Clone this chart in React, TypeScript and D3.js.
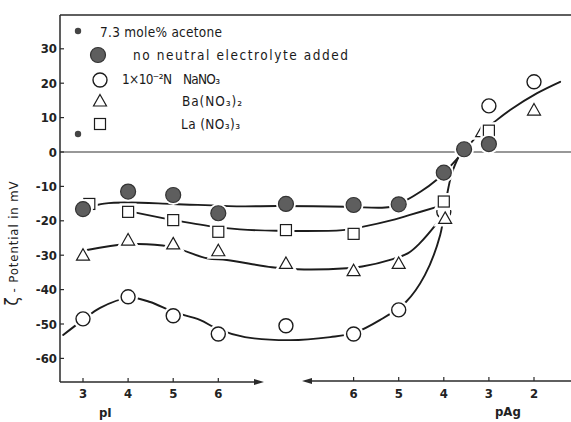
import React, { useRef, useEffect } from 'react';
import * as d3 from 'd3';

// Abscissa is one combined scale in "steps":
// pI 3..6 -> 0..3, the middle point -> 4.5, pAg 6..2 -> 6..10
const pITicks = [3, 4, 5, 6];
const pAgTicks = [6, 5, 4, 3, 2];
const yTicks = [30, 20, 10, 0, -10, -20, -30, -40, -50, -60];

const pIPos = (p: number) => p - 3;
const pAgPos = (p: number) => 12 - p;

// measured points (x in steps, y in mV)
const noElectrolyteX = [0, 1, 2, 3, 4.5, 6, 7, 8, 8.45, 9];
const noElectrolyteY = [-16.6, -11.5, -12.5, -17.8, -15.1, -15.4, -15.2, -6, 0.8, 2.3];

const naNO3X = [0, 1, 2, 3, 4.5, 6, 7, 8, 9, 10];
const naNO3Y = [-48.5, -42.1, -47.6, -52.9, -50.5, -52.9, -45.9, -17.4, 13.4, 20.4];

const baNO3X = [0, 1, 2, 3, 4.5, 6, 7, 8.03, 8.85, 10];
const baNO3Y = [-30, -25.6, -26.7, -28.7, -32.4, -34.5, -32.4, -19.3, 5.9, 12.2];

const laNO3X = [0.14, 1, 2, 3, 4.5, 6, 8, 9];
const laNO3Y = [-15.1, -17.4, -19.8, -23.2, -22.7, -23.8, -14.4, 6.2];

// hand drawn fitted curves (x in steps, y in mV)
const noElectrolyteCurve: [number, number][] = [
  [0.31, -15.4], [0.47, -15.0], [0.98, -14.7], [2.0, -15.1], [3.48, -15.8], [4.3, -15.7],
  [5.85, -15.9], [6.81, -16], [7.14, -14.2], [7.49, -11.5], [7.83, -8.2], [8.14, -4.2],
  [8.43, 0], [8.76, 4.9], [9.09, 8.4], [9.47, 12.2], [10.07, 17.1], [10.58, 20.4],
];
const laNO3Curve: [number, number][] = [
  [1.09, -17.4], [1.93, -19.6], [2.88, -21.7], [3.48, -22.5], [4.3, -22.9], [5.76, -22.7],
  [6.14, -21.9], [6.92, -19.6], [7.25, -18.3], [7.87, -15.9],
];
const baNO3Curve: [number, number][] = [
  [0.09, -28.5], [0.98, -26.8], [1.93, -27.5], [2.75, -30.9], [3.19, -31.4], [4.19, -33.5],
  [4.75, -34.1], [5.85, -33.8], [6.19, -33.3], [6.85, -31.2], [7.21, -29.4], [7.47, -26.5],
  [7.85, -20.7], [8.0, -18],
];
const naNO3Curve: [number, number][] = [
  [-0.44, -53.2], [0, -48.8], [0.38, -45.3], [1.02, -42.4], [1.49, -43.6], [2.0, -46.5],
  [2.59, -48.8], [2.99, -51.5], [3.59, -53.8], [4.59, -54.7], [5.48, -53.8], [6.01, -52.6],
  [6.59, -48.8], [7.16, -43.6], [7.58, -35.8], [7.92, -24.1], [8.05, -14], [8.18, -6.1],
  [8.36, -0.5],
];

type Shape = 'filled' | 'open' | 'tri' | 'sq' | 'dot';

const App: React.FC = () => {
  const svgRef = useRef<SVGSVGElement | null>(null);

  useEffect(() => {
    if (!svgRef.current) return;
    const svg = d3.select(svgRef.current);
    svg.selectAll('*').remove();

    const font = "'DejaVu Sans Condensed', 'DejaVu Sans', sans-serif";
    const ink = '#1c1c1c';
    const axisInk = '#2a2a2a';

    const x = d3.scaleLinear().domain([0, 10]).range([83, 534]);
    const y = d3.scaleLinear().domain([-60, 30]).range([358.4, 48.8]);

    const left = 60, top = 15, bottom = 382, right = 571;

    svg.append('rect').attr('width', 571).attr('height', 422).attr('fill', '#ffffff');

    // frame top + left axis
    svg.append('line').attr('x1', left).attr('x2', right).attr('y1', top).attr('y2', top)
      .attr('stroke', axisInk).attr('stroke-width', 1.4);
    svg.append('line').attr('x1', left).attr('x2', left).attr('y1', top).attr('y2', bottom)
      .attr('stroke', axisInk).attr('stroke-width', 1.5);

    // zero line
    svg.append('line').attr('x1', left).attr('x2', right).attr('y1', y(0)).attr('y2', y(0))
      .attr('stroke', '#333').attr('stroke-width', 1.2);

    // pI axis with arrow to the right
    svg.append('line').attr('x1', left).attr('x2', 256).attr('y1', bottom).attr('y2', bottom)
      .attr('stroke', axisInk).attr('stroke-width', 1.5);
    svg.append('path').attr('d', `M264,${bottom} L254,${bottom - 3} L254,${bottom + 3} Z`).attr('fill', axisInk);

    // pAg axis with arrow to the left
    svg.append('line').attr('x1', 309).attr('x2', right).attr('y1', bottom - 1).attr('y2', bottom - 1)
      .attr('stroke', axisInk).attr('stroke-width', 1.5);
    svg.append('path').attr('d', `M302,${bottom - 1} L312,${bottom - 4} L312,${bottom + 2} Z`).attr('fill', axisInk);

    // y ticks
    yTicks.forEach(t => {
      svg.append('line').attr('x1', left).attr('x2', left + 4).attr('y1', y(t)).attr('y2', y(t))
        .attr('stroke', axisInk).attr('stroke-width', 1.2);
      svg.append('text').attr('x', 57).attr('y', y(t)).attr('dy', '0.36em')
        .attr('text-anchor', 'end').attr('font-family', font).attr('font-size', 13)
        .attr('font-weight', 'bold').attr('fill', '#222').text(String(t));
    });

    // x ticks
    pITicks.forEach(t => {
      const px = x(pIPos(t));
      svg.append('line').attr('x1', px).attr('x2', px).attr('y1', bottom).attr('y2', bottom - 4)
        .attr('stroke', axisInk).attr('stroke-width', 1.2);
      svg.append('text').attr('x', px).attr('y', 398).attr('text-anchor', 'middle')
        .attr('font-family', font).attr('font-size', 13).attr('font-weight', 'bold')
        .attr('fill', '#222').text(String(t));
    });
    pAgTicks.forEach(t => {
      const px = x(pAgPos(t));
      svg.append('line').attr('x1', px).attr('x2', px).attr('y1', bottom - 1).attr('y2', bottom - 5)
        .attr('stroke', axisInk).attr('stroke-width', 1.2);
      svg.append('text').attr('x', px).attr('y', 398).attr('text-anchor', 'middle')
        .attr('font-family', font).attr('font-size', 13).attr('font-weight', 'bold')
        .attr('fill', '#222').text(String(t));
    });

    // axis titles
    svg.append('text').attr('x', 99).attr('y', 417).attr('font-family', font)
      .attr('font-size', 13).attr('font-weight', 'bold').attr('fill', '#222').text('pI');
    svg.append('text').attr('x', 495).attr('y', 416).attr('font-family', font)
      .attr('font-size', 13).attr('font-weight', 'bold').attr('fill', '#222').text('pAg');
    const yTitle = svg.append('text')
      .attr('transform', 'translate(18,243) rotate(-90)')
      .attr('text-anchor', 'middle').attr('font-family', font).attr('font-size', 13)
      .attr('fill', '#222');
    yTitle.append('tspan').attr('font-size', 17).text('ζ');
    yTitle.append('tspan').text(' - Potential in mV').attr('letter-spacing', 0.9);

    // curves
    const line = d3.line<[number, number]>()
      .x(d => x(d[0]))
      .y(d => y(d[1]))
      .curve(d3.curveCatmullRom.alpha(0.5));
    [noElectrolyteCurve, laNO3Curve, baNO3Curve, naNO3Curve].forEach(c => {
      svg.append('path').attr('d', line(c) ?? '').attr('fill', 'none')
        .attr('stroke', ink).attr('stroke-width', 1.9).attr('stroke-linecap', 'round');
    });

    // markers
    const drawMarker = (shape: Shape, cx: number, cy: number, halo: boolean) => {
      const g = svg.append('g').attr('transform', `translate(${cx},${cy})`);
      const layers = halo ? [true, false] : [false];
      layers.forEach(isHalo => {
        const stroke = isHalo ? '#ffffff' : ink;
        const sw = isHalo ? 6 : 1.4;
        if (shape === 'filled') {
          g.append('circle').attr('r', 7.5).attr('fill', isHalo ? '#fff' : '#5e5e5e')
            .attr('stroke', isHalo ? '#fff' : '#333').attr('stroke-width', isHalo ? 5 : 1.2);
        } else if (shape === 'open') {
          g.append('circle').attr('r', 7).attr('fill', '#fff')
            .attr('stroke', stroke).attr('stroke-width', sw);
        } else if (shape === 'tri') {
          g.append('path').attr('d', 'M0,-6.5 L6.5,5 L-6.5,5 Z').attr('fill', '#fff')
            .attr('stroke', stroke).attr('stroke-width', isHalo ? 6 : 1.2).attr('stroke-linejoin', 'miter');
        } else if (shape === 'sq') {
          g.append('rect').attr('x', -5.5).attr('y', -5.5).attr('width', 11).attr('height', 11)
            .attr('fill', '#fff').attr('stroke', stroke).attr('stroke-width', isHalo ? 6 : 1.2);
        } else {
          g.append('circle').attr('r', 3.2).attr('fill', '#444');
        }
      });
    };

    naNO3X.forEach((d, i) => drawMarker('open', x(d), y(naNO3Y[i]), true));
    baNO3X.forEach((d, i) => drawMarker('tri', x(d), y(baNO3Y[i]), true));
    laNO3X.forEach((d, i) => drawMarker('sq', x(d), y(laNO3Y[i]), true));
    noElectrolyteX.forEach((d, i) => drawMarker('filled', x(d), y(noElectrolyteY[i]), true));

    // legend
    drawMarker('dot', 78, 31, false);
    drawMarker('filled', 98, 55, false);
    drawMarker('open', 100, 80, false);
    drawMarker('tri', 100, 101, false);
    drawMarker('sq', 100, 124, false);
    drawMarker('dot', 78, 134, false);

    const legendText = (tx: number, ty: number, s: string, len: number) => {
      svg.append('text').attr('x', tx).attr('y', ty).attr('font-family', font)
        .attr('font-size', 13.5).attr('fill', '#1a1a1a')
        .attr('textLength', len).attr('lengthAdjust', 'spacing').text(s);
    };
    legendText(100, 37, '7.3 mole% acetone', 122);
    legendText(133, 60, 'no neutral electrolyte added', 215);
    legendText(122, 84, '1×10⁻²N', 50);
    legendText(183, 84, 'NaNO₃', 37);
    legendText(182, 106, 'Ba(NO₃)₂', 60);
    legendText(181, 129, 'La (NO₃)₃', 59);
  }, []);

  return (
    <svg
      ref={svgRef}
      width={571}
      height={422}
      style={{ position: 'absolute', left: 0, top: 0, display: 'block' }}
    />
  );
};

export default App;
